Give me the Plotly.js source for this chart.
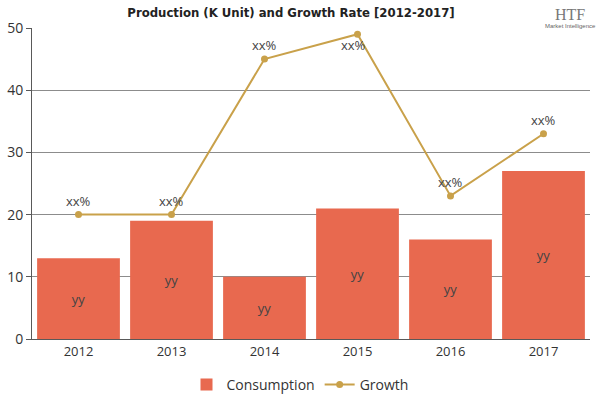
<!DOCTYPE html>
<html><head><meta charset="utf-8">
<script src="https://cdn.plot.ly/plotly-3.0.1.min.js"></script>
<style>body{margin:0;background:#fff}#chart{width:600px;height:400px}</style>
</head><body><div id="chart"></div>
<script>
var years = ['2012','2013','2014','2015','2016','2017'];
var consumption = [13, 19, 10, 21, 16, 27];
var growth = [20, 20, 45, 49, 23, 33];
var barLabels = ['yy','yy','yy','yy','yy','yy'];
var growthLabels = ['xx%','xx%','xx%','xx%','xx%','xx%'];
var growthLabelShift = [14, 14, 14, -11, 14, 14];

var traces = [
  {type:'bar', x:years, y:consumption, name:'Consumption', marker:{color:'#E8694F'},
   text:barLabels, textposition:'inside', insidetextanchor:'middle',
   textfont:{family:'Open Sans, sans-serif', size:13, color:'#444'}, hoverinfo:'none'},
  {type:'scatter', mode:'lines+markers', x:years, y:growth, name:'Growth',
   line:{color:'#C9A14A', width:2}, marker:{color:'#C9A14A', size:7}}
];

var anns = years.map(function(yr, i){
  return {x:i, y:growth[i], xref:'x', yref:'y', text:growthLabels[i], showarrow:false,
    yshift:growthLabelShift[i], xshift:(growthLabelShift[i] < 0 ? -4 : 0),
    font:{family:'Open Sans, sans-serif', size:13, color:'#444'}};
});
anns.push({text:'HTF', xref:'paper', yref:'paper', x:0.965, y:1.045, xanchor:'center', yanchor:'middle', showarrow:false,
     font:{family:'Liberation Serif, serif', size:16, color:'#777'}});
anns.push({text:'Market Intelligence', xref:'paper', yref:'paper', x:0.965, y:1.008, xanchor:'center', yanchor:'middle', showarrow:false,
     font:{family:'Liberation Sans, sans-serif', size:6, color:'#666'}});

var layout = {
  width:600, height:400,
  margin:{l:32, r:10, t:28, b:61},
  paper_bgcolor:'#fff', plot_bgcolor:'#fff',
  title:{text:'<b>Production (K Unit) and Growth Rate [2012-2017]</b>', x:0.485, xanchor:'center', y:0.97, yanchor:'middle',
    font:{family:'DejaVu Sans Condensed', size:13, color:'#222'}},
  bargap:0.11,
  xaxis:{type:'category', range:[-0.5, 5.5], showline:true, linecolor:'#595959', linewidth:1, ticks:'', 
    tickfont:{family:'Open Sans, sans-serif', size:13, color:'#333'}},
  yaxis:{range:[0,50], dtick:10, showline:true, linecolor:'#595959', linewidth:1, ticks:'outside', ticklen:5, tickcolor:'#595959',
    gridcolor:'#8c8c8c', gridwidth:1, zeroline:false,
    tickfont:{family:'Open Sans, sans-serif', size:14, color:'#333'}},
  legend:{orientation:'h', x:0.5, xanchor:'center', xref:'container', yref:'container', y:0.0375, yanchor:'middle',
    itemwidth:30, font:{family:'Open Sans, sans-serif', size:14, color:'#333'}},
  showlegend:true,
  annotations:anns
};
Plotly.newPlot('chart', traces, layout, {displayModeBar:false, staticPlot:true});
</script></body></html>
